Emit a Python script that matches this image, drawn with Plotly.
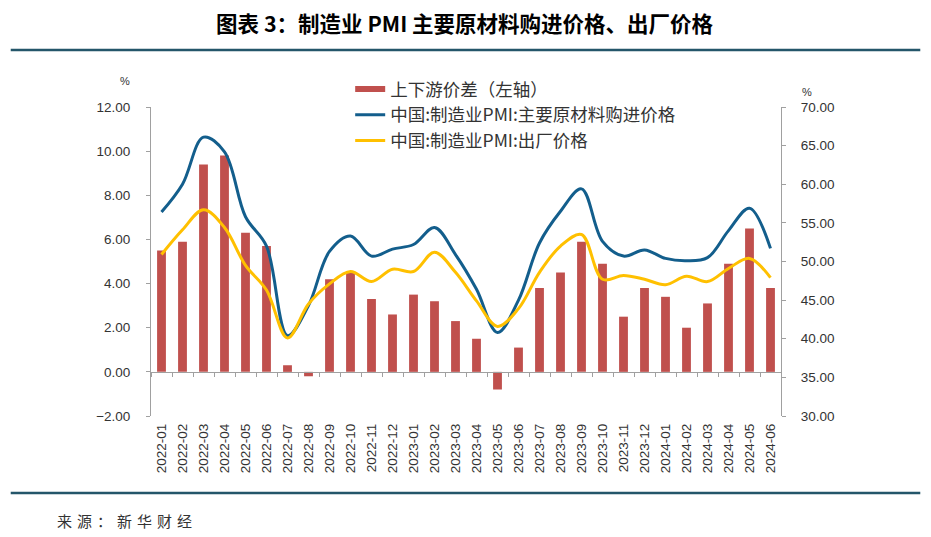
import plotly.graph_objects as go

categories = ["2022-01","2022-02","2022-03","2022-04","2022-05","2022-06","2022-07","2022-08",
              "2022-09","2022-10","2022-11","2022-12","2023-01","2023-02","2023-03","2023-04",
              "2023-05","2023-06","2023-07","2023-08","2023-09","2023-10","2023-11","2023-12",
              "2024-01","2024-02","2024-03","2024-04","2024-05","2024-06"]

spread = [5.5, 5.9, 9.4, 9.8, 6.3, 5.7, 0.3, -0.2, 4.2, 4.5, 3.3, 2.6, 3.5, 3.2, 2.3, 1.5,
          -0.8, 1.1, 3.8, 4.5, 5.9, 4.9, 2.5, 3.8, 3.4, 2.0, 3.1, 4.9, 6.5, 3.8]

input_price = [56.4, 60.0, 66.1, 64.2, 55.8, 52.0, 40.4, 44.3, 51.3, 53.3, 50.7, 51.6, 52.2, 54.4,
               50.9, 46.4, 40.8, 45.0, 52.4, 56.5, 59.4, 52.6, 50.7, 51.5, 50.4, 50.1, 50.5, 54.0,
               56.9, 51.7]

output_price = [50.9, 54.1, 56.7, 54.4, 49.5, 46.3, 40.1, 44.5, 47.1, 48.7, 47.4, 49.0, 48.7, 51.2,
                48.6, 44.9, 41.6, 43.9, 48.6, 52.0, 53.5, 47.7, 48.2, 47.7, 47.0, 48.1, 47.4, 49.1,
                50.4, 47.9]

names = ["上下游价差（左轴）", "中国:制造业PMI:主要原材料购进价格", "中国:制造业PMI:出厂价格"]
title_text = "图表 3：制造业 PMI 主要原材料购进价格、出厂价格"
source_text = "来源：新华财经"

# page body has an 8px margin: the figure starts at screen (8, 8)
OX, OY = 8, 8
W, H = 931 - OX, 537 - OY
plot_x0, plot_x1 = 150.5, 781.5     # screen px
plot_y0, plot_y1 = 107, 416         # screen px
ml, mr = plot_x0 - OX, 931 - plot_x1
mt, mb = plot_y0 - OY, 537 - plot_y1
plot_w = plot_x1 - plot_x0
plot_h = plot_y1 - plot_y0
left_range = [-2, 12]
right_range = [30, 70]

def px_x(x):
    return (x - plot_x0) / plot_w

def px_y(y):
    return 1 - (y - plot_y0) / plot_h

FONT = "Liberation Sans, Noto Sans CJK SC, sans-serif"
CJK = "Noto Sans CJK SC, sans-serif"
RED, BLUE, GOLD = "#C0504D", "#135E8C", "#FFC000"

fig = go.Figure()
fig.add_trace(go.Bar(x=categories, y=spread, name=names[0], marker_color=RED,
                     marker_line_width=0, yaxis="y", showlegend=False))
# legend proxy so the bar series shows a wide red swatch as in the reference
fig.add_trace(go.Scatter(x=[None], y=[None], name=names[0], mode="lines",
                         line=dict(color=RED, width=6), yaxis="y", hoverinfo="skip"))
fig.add_trace(go.Scatter(x=categories, y=input_price, name=names[1], mode="lines",
                         line=dict(color=BLUE, width=3, shape="spline", smoothing=1.0),
                         yaxis="y2"))
fig.add_trace(go.Scatter(x=categories, y=output_price, name=names[2], mode="lines",
                         line=dict(color=GOLD, width=3, shape="spline", smoothing=1.0),
                         yaxis="y2"))
# helper trace carrying the category axis drawn at the zero line
fig.add_trace(go.Scatter(x=categories, y=[None] * len(categories), xaxis="x2", yaxis="y",
                         mode="lines", showlegend=False, hoverinfo="skip"))

zero_frac = (0 - left_range[0]) / (left_range[1] - left_range[0])

fig.update_layout(
    width=W, height=H,
    margin=dict(l=ml, r=mr, t=mt, b=mb, autoexpand=False),
    paper_bgcolor="white", plot_bgcolor="white",
    bargap=0.58,
    showlegend=True,
    legend=dict(x=px_x(350), y=px_y(71),
                xanchor="left", yanchor="top", bgcolor="rgba(0,0,0,0)",
                font=dict(family=CJK, size=17.5, color="#333333"),
                traceorder="normal", tracegroupgap=0, itemwidth=30),
    xaxis=dict(type="category", showline=False, ticks="", showgrid=False,
               tickangle=-90, tickfont=dict(family=FONT, size=13.5, color="#333333"),
               ticklabelstandoff=4),
    xaxis2=dict(type="category", overlaying="x", matches="x", anchor="free",
                position=zero_frac, side="bottom", showline=True, linecolor="#A0A0A0",
                linewidth=1, ticks="outside", ticklen=4, tickcolor="#A0A0A0",
                tickson="boundaries", showticklabels=False, showgrid=False),
    yaxis=dict(range=left_range, dtick=2, tickformat=".2f", showgrid=False, zeroline=False,
               showline=True, linecolor="#A0A0A0", linewidth=1, ticks="outside", ticklen=4,
               tickcolor="#A0A0A0", ticklabelstandoff=13,
               tickfont=dict(family=FONT, size=13.5, color="#333333")),
    yaxis2=dict(range=right_range, dtick=5, tickformat=".2f", overlaying="y", side="right",
                showgrid=False, zeroline=False, showline=True, linecolor="#A0A0A0",
                linewidth=1, ticks="outside", ticklen=4, tickcolor="#A0A0A0",
                ticklabelstandoff=12, tickfont=dict(family=FONT, size=13.5, color="#333333")),
)

fig.add_annotation(text="<b>" + title_text + "</b>", xref="paper", yref="paper",
                   x=px_x(465), y=px_y(22),
                   xanchor="center", yanchor="middle", showarrow=False,
                   font=dict(family=CJK, size=21.5, color="#000000"))
fig.add_annotation(text='<span style="letter-spacing:5px">' + source_text + "</span>",
                   xref="paper", yref="paper",
                   x=px_x(54), y=px_y(520),
                   xanchor="left", yanchor="middle", showarrow=False,
                   font=dict(family=CJK, size=15, color="#333333"))
fig.add_annotation(text="%", xref="paper", yref="paper",
                   x=px_x(124), y=px_y(81),
                   xanchor="center", yanchor="middle", showarrow=False,
                   font=dict(family=FONT, size=11, color="#333333"))
fig.add_annotation(text="%", xref="paper", yref="paper",
                   x=px_x(808), y=px_y(92),
                   xanchor="center", yanchor="middle", showarrow=False,
                   font=dict(family=FONT, size=11, color="#333333"))

for ypx in (50, 493):
    fig.add_shape(type="line", xref="paper", yref="paper",
                  x0=px_x(10), x1=px_x(921), y0=px_y(ypx), y1=px_y(ypx),
                  line=dict(color="#24566A", width=2.5))

fig.write_html("out.html")
